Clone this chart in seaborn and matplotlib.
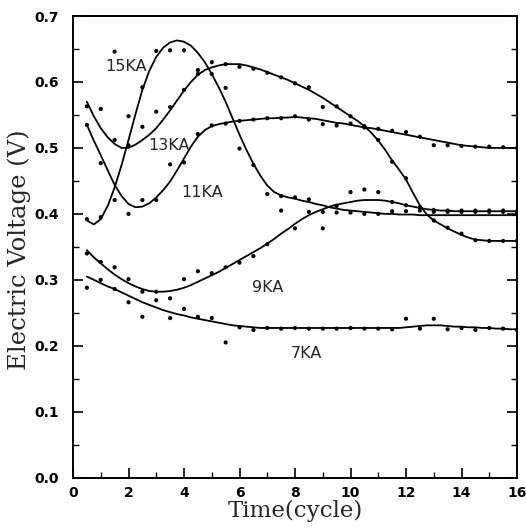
import pandas as pd
import seaborn as sns
import matplotlib.pyplot as plt
from matplotlib.ticker import MultipleLocator

# measurement times (cycle)
cycles = [0.5, 1.0, 1.5, 2.0, 2.5, 3.0, 3.5, 4.0, 4.5, 5.0, 5.5, 6.0, 6.5, 7.0, 7.5, 8.0,
          8.5, 9.0, 9.5, 10.0, 10.5, 11.0, 11.5, 12.0, 12.5, 13.0, 13.5, 14.0, 14.5, 15.0, 15.5, 16.0]

# measured points
pts_15 = [0.392, 0.395, 0.646, 0.504, 0.592, 0.647, 0.648, 0.648, 0.618, 0.612, 0.591, 0.499, 0.474, 0.430, 0.427, 0.425,
          0.422, 0.403, 0.402, 0.402, 0.400, 0.400, 0.404, 0.404, 0.405, 0.403, 0.403, 0.403, 0.403, 0.403, 0.403, 0.403]
pts_13 = [0.563, 0.559, 0.512, 0.548, 0.532, 0.555, 0.562, 0.588, 0.612, 0.630, 0.627, 0.623, 0.620, 0.614, 0.607, 0.598,
          0.592, 0.562, 0.563, 0.548, 0.533, 0.512, 0.479, 0.454, 0.410, 0.390, 0.379, 0.370, 0.360, 0.359, 0.359, 0.359]
pts_11 = [0.535, 0.477, 0.421, 0.400, 0.421, 0.421, 0.475, 0.478, 0.521, 0.534, 0.537, 0.541, 0.543, 0.545, 0.545, 0.548,
          0.543, 0.536, 0.534, 0.537, 0.531, 0.529, 0.526, 0.524, 0.517, 0.504, 0.504, 0.503, 0.502, 0.502, 0.501, 0.500]
pts_9 = [0.340, 0.327, 0.319, 0.301, 0.282, 0.282, 0.272, 0.301, 0.313, 0.310, 0.319, 0.326, 0.336, 0.354, 0.405, 0.378,
         0.403, 0.378, 0.412, 0.433, 0.437, 0.433, 0.418, 0.413, 0.410, 0.406, 0.405, 0.405, 0.405, 0.405, 0.405, 0.404]
pts_7 = [0.288, 0.300, 0.286, 0.266, 0.244, 0.269, 0.242, 0.256, 0.244, 0.242, 0.205, 0.228, 0.224, 0.227, 0.226, 0.227,
         0.226, 0.226, 0.226, 0.227, 0.226, 0.226, 0.225, 0.241, 0.226, 0.241, 0.225, 0.227, 0.224, 0.227, 0.226, 0.224]

fit_times = [0.5, 0.75, 1.0, 1.25, 1.5, 1.75, 2.0, 2.25, 2.5, 2.75, 3.0, 3.25, 3.5, 3.75, 4.0, 4.25,
             4.5, 4.75, 5.0, 5.25, 5.5, 5.75, 6.0, 6.25, 6.5, 6.75, 7.0, 7.25, 7.5, 7.75, 8.0, 8.25,
             8.5, 8.75, 9.0, 9.25, 9.5, 9.75, 10.0, 10.25, 10.5, 10.75, 11.0, 11.25, 11.5, 11.75, 12.0, 12.25,
             12.5, 12.75, 13.0, 13.25, 13.5, 13.75, 14.0, 14.25, 14.5, 14.75, 15.0, 15.25, 15.5, 15.75, 16.0]
fit_15 = [0.390, 0.384, 0.392, 0.412, 0.440, 0.474, 0.512, 0.551, 0.588, 0.617, 0.638, 0.652, 0.660, 0.663, 0.661, 0.655,
          0.644, 0.630, 0.612, 0.592, 0.570, 0.545, 0.520, 0.497, 0.476, 0.458, 0.443, 0.433, 0.428, 0.425, 0.423, 0.420,
          0.418, 0.415, 0.413, 0.410, 0.408, 0.406, 0.405, 0.404, 0.403, 0.402, 0.401, 0.400, 0.400, 0.399, 0.399, 0.399,
          0.398, 0.398, 0.398, 0.398, 0.398, 0.398, 0.398, 0.398, 0.398, 0.398, 0.398, 0.398, 0.398, 0.398, 0.398]
fit_13 = [0.570, 0.548, 0.530, 0.516, 0.506, 0.500, 0.500, 0.505, 0.512, 0.520, 0.530, 0.543, 0.557, 0.572, 0.587, 0.600,
          0.611, 0.618, 0.622, 0.625, 0.627, 0.627, 0.627, 0.625, 0.622, 0.619, 0.615, 0.611, 0.607, 0.603, 0.598, 0.593,
          0.588, 0.582, 0.576, 0.569, 0.562, 0.555, 0.548, 0.541, 0.533, 0.523, 0.511, 0.497, 0.481, 0.467, 0.452, 0.432,
          0.413, 0.399, 0.390, 0.384, 0.378, 0.373, 0.368, 0.364, 0.361, 0.360, 0.359, 0.359, 0.359, 0.359, 0.359]
fit_11 = [0.535, 0.511, 0.489, 0.466, 0.444, 0.427, 0.415, 0.410, 0.411, 0.416, 0.425, 0.436, 0.449, 0.466, 0.484, 0.502,
          0.517, 0.527, 0.533, 0.536, 0.538, 0.540, 0.541, 0.542, 0.543, 0.544, 0.545, 0.545, 0.546, 0.546, 0.547, 0.546,
          0.545, 0.544, 0.542, 0.540, 0.538, 0.537, 0.535, 0.533, 0.531, 0.530, 0.528, 0.526, 0.524, 0.522, 0.520, 0.518,
          0.516, 0.514, 0.512, 0.510, 0.508, 0.506, 0.504, 0.503, 0.502, 0.501, 0.500, 0.500, 0.500, 0.500, 0.500]
fit_9 = [0.345, 0.334, 0.325, 0.316, 0.308, 0.301, 0.295, 0.290, 0.286, 0.283, 0.282, 0.282, 0.283, 0.285, 0.288, 0.292,
         0.297, 0.302, 0.307, 0.312, 0.318, 0.324, 0.330, 0.336, 0.342, 0.348, 0.355, 0.362, 0.370, 0.377, 0.385, 0.392,
         0.398, 0.403, 0.407, 0.411, 0.414, 0.416, 0.418, 0.420, 0.421, 0.421, 0.421, 0.420, 0.418, 0.416, 0.413, 0.411,
         0.409, 0.407, 0.406, 0.405, 0.405, 0.404, 0.404, 0.404, 0.404, 0.404, 0.404, 0.404, 0.404, 0.404, 0.404]
fit_7 = [0.305, 0.300, 0.295, 0.290, 0.286, 0.281, 0.276, 0.271, 0.266, 0.262, 0.258, 0.254, 0.251, 0.248, 0.246, 0.243,
         0.241, 0.239, 0.237, 0.235, 0.233, 0.231, 0.230, 0.229, 0.228, 0.227, 0.227, 0.227, 0.227, 0.227, 0.227, 0.227,
         0.227, 0.227, 0.227, 0.227, 0.227, 0.227, 0.227, 0.227, 0.227, 0.227, 0.227, 0.227, 0.227, 0.227, 0.228, 0.229,
         0.230, 0.231, 0.231, 0.231, 0.230, 0.229, 0.229, 0.228, 0.228, 0.227, 0.227, 0.226, 0.226, 0.225, 0.225]

currents = ['15KA', '13KA', '11KA', '9KA', '7KA']
label_pos = [(1.9, 0.623), (3.45, 0.504), (4.65, 0.433), (7.0, 0.289), (8.4, 0.189)]

pts = [pts_15, pts_13, pts_11, pts_9, pts_7]
fits = [fit_15, fit_13, fit_11, fit_9, fit_7]

point_rows = []
fit_rows = []
for name, p, f in zip(currents, pts, fits):
    assert len(p) == len(cycles) and len(f) == len(fit_times)
    for t, v in zip(cycles, p):
        point_rows.append({'current': name, 'time': t, 'voltage': v})
    for t, v in zip(fit_times, f):
        fit_rows.append({'current': name, 'time': t, 'voltage': v})
df_pts = pd.DataFrame(point_rows)
df_fit = pd.DataFrame(fit_rows)

sns.set_style('ticks')
fig = plt.figure(figsize=(5.26, 5.30), dpi=100)
ax = fig.add_axes([0.1388, 0.0987, 0.8441, 0.8711])

sns.lineplot(data=df_fit, x='time', y='voltage', units='current', estimator=None,
             color='black', linewidth=1.3, ax=ax)
sns.scatterplot(data=df_pts, x='time', y='voltage', color='black', s=9,
                edgecolor='none', ax=ax)

for name, (tx, ty) in zip(currents, label_pos):
    ax.text(tx, ty, name, fontsize=11.5, family='DejaVu Sans', ha='center', va='center')

ax.set_xlim(0, 16)
ax.set_ylim(0, 0.7)
ax.set_xticks(range(0, 17, 2))
ax.set_xticklabels([str(v) for v in range(0, 17, 2)])
ax.set_yticks([0.0, 0.1, 0.2, 0.3, 0.4, 0.5, 0.6, 0.7])
ax.set_yticklabels(['0.0', '0.1', '0.2', '0.3', '0.4', '0.5', '0.6', '0.7'])
ax.xaxis.set_minor_locator(MultipleLocator(1))
ax.yaxis.set_minor_locator(MultipleLocator(0.05))
ax.tick_params(which='both', direction='in', colors='black', right=True)
ax.tick_params(which='major', length=7, width=1.2)
ax.tick_params(which='minor', length=4, width=1.0)
ax.tick_params(axis='y', which='major', pad=10)
ax.tick_params(axis='x', which='major', pad=6)
for lab in ax.get_xticklabels() + ax.get_yticklabels():
    lab.set_fontweight('bold')
    lab.set_fontsize(10)
    lab.set_family('DejaVu Sans')
for sp in ax.spines.values():
    sp.set_linewidth(1.4)
    sp.set_color('black')

ax.set_xlabel('Time(cycle)', fontsize=16.5, family='DejaVu Serif', labelpad=0)
ax.set_ylabel('Electric Voltage (V)', fontsize=17.5, family='DejaVu Serif')
ax.yaxis.set_label_coords(-0.095, 0.493)

fig.savefig('out.png', dpi=100)
